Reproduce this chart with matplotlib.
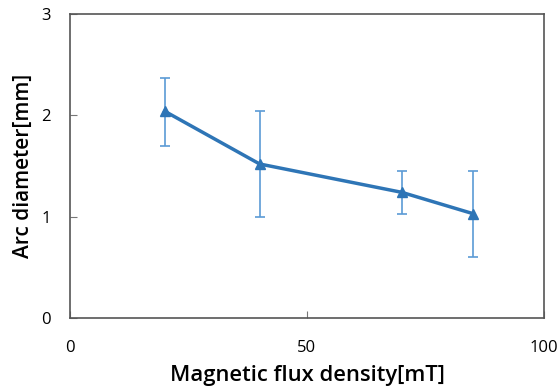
import matplotlib
matplotlib.use("Agg")
import matplotlib.pyplot as plt

# data
flux = [20, 40, 70, 85]
diameter = [2.04, 1.52, 1.24, 1.03]
err_low = [0.34, 0.52, 0.21, 0.43]
err_high = [0.33, 0.52, 0.21, 0.42]

plt.rcParams['font.family'] = ['Open Sans', 'DejaVu Sans']

fig = plt.figure(figsize=(5.58, 3.92), dpi=100)
ax = fig.add_axes([70 / 558, 1 - 318 / 392, 474 / 558, 304 / 392])

ax.errorbar(flux, diameter, yerr=[err_low, err_high], fmt='none',
            ecolor='#5b9bd5', elinewidth=1.2, capsize=3.5, capthick=1.2, zorder=2)
ax.plot(flux, diameter, color='#2e75b6', linewidth=2.5, marker='^',
        markersize=7, zorder=3)

ax.set_xlim(0, 100)
ax.set_ylim(0, 3)
ax.set_xticks([0, 50, 100])
ax.set_yticks([0, 1, 2, 3])
ax.tick_params(direction='in', length=5, width=0.8, color='#777777',
               labelsize=12, pad=14)
ax.tick_params(axis='x', pad=16)
for s in ax.spines.values():
    s.set_color('#555555')
    s.set_linewidth(1.2)

ax.set_xlabel('Magnetic flux density[mT]', fontsize=15.8, fontweight='semibold', labelpad=6)
ax.set_ylabel('Arc diameter[mm]', fontsize=15, fontweight='semibold', labelpad=5)

fig.savefig('out.png', dpi=100)
